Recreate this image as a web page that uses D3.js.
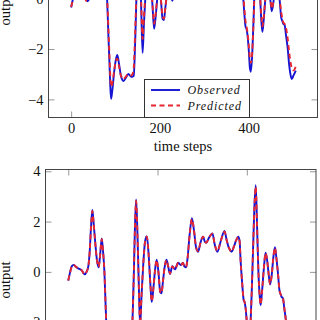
<!DOCTYPE html>
<html>
<head>
<meta charset="utf-8">
<script src="https://cdn.jsdelivr.net/npm/d3@7"></script>
<style>
body { margin: 0; background: #fff; }
svg { display: block; }
text { font-family: "Liberation Serif", "DejaVu Serif", serif; fill: #111; }
</style>
</head>
<body>
<svg width="320" height="320"></svg>
<script>
// time steps shared by every series
var steps = [
    0, 4, 8, 12, 17, 22, 27, 30, 34, 37,
    41, 45, 48, 51, 54, 57, 60, 64, 68, 71,
    75, 78, 81, 84, 86, 88, 90, 93, 97, 101,
    104, 108, 112, 118, 123, 129, 135, 138, 141, 143,
    145, 147, 149, 152, 155, 158, 161, 164, 168, 172,
    176, 180, 184, 187, 191, 194, 198, 202, 206, 209,
    212, 216, 220, 224, 228, 233, 239, 246, 252, 257,
    260, 264, 267, 272, 277, 282, 286, 291, 296, 302,
    306, 309, 315, 323, 328, 334, 342, 350, 355, 360,
    366, 371, 376, 381, 384, 386, 389, 393, 395, 397,
    400, 403, 405, 408, 411, 414, 417, 420, 423, 426,
    429, 431, 434, 438, 442, 446, 449, 452, 456, 459,
    463, 466, 470, 473, 476, 478, 481, 484, 488, 491,
    494, 497, 501, 506
];

var observed = [
    -0.35, -0.02, 0.23, 0.28, 0.2, 0.14, 0.1, 0.07, -0.05, -0.1,
    0.0, 0.23, 0.8, 1.8, 2.46, 1.9, 1.26, 0.5, 0.18, 0.6,
    1.33, 0.8, 0.0, -1.5, -2.4, -3.4, -3.98, -3.6, -2.9, -2.4,
    -2.24, -2.6, -3.05, -3.27, -3.15, -2.99, -3.1, -3.1, -3.07, -2.4,
    -1.3, 0.0, 1.5, 2.88, 1.5, -0.5, -2.15, -1.0, 0.3, 1.2,
    1.42, 0.7, -0.5, -1.2, -0.6, 0.0, 0.48, 0.0, -0.8, -0.85,
    -0.4, 0.2, 0.48, 0.2, -0.08, 0.23, 0.1, 0.36, 0.27, 0.36,
    0.22, 0.18, 0.5, 1.5, 2.13, 1.6, 1.0, 0.8, 1.15, 1.4,
    1.2, 1.16, 1.35, 1.53, 1.1, 0.8, 1.25, 1.63, 1.25, 0.95,
    0.8, 1.0, 1.25, 1.4, 1.2, 0.47, -0.3, -1.12, -1.2, -1.4,
    -2.0, -2.8, -2.9, -2.2, -0.8, 0.9, 2.6, 3.45, 1.8, 0.0,
    -1.0, -1.32, -0.8, 0.1, 0.76, 0.4, -0.1, -0.5, -0.1, 0.5,
    0.98, 0.6, -0.1, -0.72, -0.9, -1.0, -1.05, -1.45, -2.0, -2.6,
    -3.0, -3.19, -3.05, -2.86
];

// prediction of the first model (upper panel)
var predictedTop = [
    -0.33, -0.05, 0.2, 0.27, 0.2, 0.15, 0.1, 0.05, -0.08, -0.1,
    -0.02, 0.2, 0.75, 1.7, 2.3, 1.9, 1.3, 0.6, 0.25, 0.6,
    1.2, 0.8, 0.1, -1.2, -2.1, -3.0, -3.5, -3.35, -2.85, -2.45,
    -2.38, -2.7, -3.05, -3.2, -3.1, -3.0, -3.05, -3.0, -2.75, -1.9,
    -0.9, 0.2, 1.4, 2.6, 1.5, -0.2, -1.6, -0.7, 0.3, 1.1,
    1.35, 0.7, -0.4, -1.0, -0.5, 0.0, 0.45, 0.0, -0.7, -0.8,
    -0.4, 0.2, 0.45, 0.2, -0.1, 0.2, 0.1, 0.32, 0.27, 0.33,
    0.22, 0.2, 0.5, 1.4, 2.0, 1.6, 1.05, 0.85, 1.1, 1.35,
    1.2, 1.15, 1.3, 1.45, 1.1, 0.85, 1.2, 1.55, 1.25, 0.95,
    0.85, 1.0, 1.2, 1.35, 1.15, 0.6, -0.1, -0.9, -1.1, -1.3,
    -1.8, -2.4, -2.55, -2.1, -0.9, 0.8, 2.4, 3.2, 1.8, 0.1,
    -0.8, -1.1, -0.7, 0.1, 0.7, 0.4, 0.0, -0.4, -0.05, 0.5,
    0.9, 0.6, 0.0, -0.5, -0.8, -0.95, -1.0, -1.15, -1.6, -2.1,
    -2.5, -2.75, -2.85, -2.7
];

// prediction of the second model (lower panel)
var predictedBottom = [
    -0.34, -0.03, 0.22, 0.28, 0.2, 0.14, 0.1, 0.06, -0.05, -0.1,
    0.0, 0.22, 0.8, 1.78, 2.42, 1.9, 1.25, 0.5, 0.2, 0.6,
    1.3, 0.8, 0.02, -1.5, -2.4, -3.38, -3.95, -3.6, -2.9, -2.4,
    -2.25, -2.6, -3.03, -3.25, -3.15, -3.0, -3.1, -3.1, -3.05, -2.4,
    -1.3, 0.0, 1.5, 2.82, 1.5, -0.5, -2.1, -1.0, 0.3, 1.2,
    1.4, 0.7, -0.5, -1.18, -0.6, 0.0, 0.47, 0.0, -0.8, -0.84,
    -0.4, 0.2, 0.47, 0.2, -0.07, 0.22, 0.1, 0.35, 0.27, 0.35,
    0.22, 0.19, 0.5, 1.48, 2.1, 1.6, 1.0, 0.82, 1.15, 1.4,
    1.2, 1.16, 1.35, 1.52, 1.1, 0.82, 1.25, 1.6, 1.25, 0.95,
    0.8, 1.0, 1.25, 1.38, 1.2, 0.48, -0.3, -1.1, -1.2, -1.38,
    -2.0, -2.78, -2.88, -2.2, -0.8, 0.9, 2.55, 3.38, 1.8, 0.0,
    -1.0, -1.3, -0.8, 0.1, 0.75, 0.4, -0.1, -0.48, -0.1, 0.5,
    0.96, 0.6, -0.1, -0.7, -0.9, -1.0, -1.05, -1.43, -2.0, -2.58,
    -2.98, -3.17, -3.05, -2.86
];

var xTicks = [0, 200, 400];
var yTicks = [-4, -2, 0, 2, 4];
var legendLabels = ["Observed", "Predicted"];

var svg = d3.select("svg");
var BLUE = "#1414d2", RED = "#e8262f";

function drawPanel(id, box, pred, opts) {
    var x = d3.scaleLinear().domain([-51, 555]).range([box.left, box.right]);
    var y = d3.scaleLinear().domain([-4.72, 4.07]).range([box.bottom, box.top]);

    var g = svg.append("g");

    g.append("clipPath").attr("id", "clip" + id)
        .append("rect")
        .attr("x", box.left).attr("y", box.top)
        .attr("width", box.right - box.left).attr("height", box.bottom - box.top);

    var line = d3.line()
        .x(function (d, i) { return x(steps[i]); })
        .y(function (d) { return y(d); })
        .curve(d3.curveMonotoneX);

    var plot = g.append("g").attr("clip-path", "url(#clip" + id + ")");
    plot.append("path").datum(observed)
        .attr("d", line).attr("fill", "none")
        .attr("stroke", BLUE).attr("stroke-width", 1.9);
    plot.append("path").datum(pred)
        .attr("d", line).attr("fill", "none")
        .attr("stroke", RED).attr("stroke-width", 1.9)
        .attr("stroke-dasharray", "5,3.5");

    // ticks point inward, on all four sides
    var axes = [
        [d3.axisBottom(x).tickValues(xTicks), "translate(0," + box.bottom + ")", true],
        [d3.axisTop(x).tickValues(xTicks), "translate(0," + box.top + ")", false],
        [d3.axisLeft(y).tickValues(yTicks), "translate(" + box.left + ",0)", true],
        [d3.axisRight(y).tickValues(yTicks), "translate(" + box.right + ",0)", false]
    ];
    axes.forEach(function (a) {
        a[0].tickSizeInner(-6).tickSizeOuter(0).tickPadding(5);
        if (!a[2]) a[0].tickFormat("");
        var ax = g.append("g").attr("transform", a[1]).call(a[0]);
        ax.select(".domain").remove();
        ax.selectAll("line").attr("stroke", "#999");
        ax.selectAll("text")
            .attr("font-family", '"Liberation Serif", serif')
            .attr("font-size", 14.5).attr("fill", "#111");
    });

    g.append("rect")
        .attr("x", box.left).attr("y", box.top)
        .attr("width", box.right - box.left).attr("height", box.bottom - box.top)
        .attr("fill", "none").attr("stroke", "#444").attr("stroke-width", 1);

    g.append("text")
        .attr("transform", "translate(10," + (box.top + box.bottom) / 2 + ") rotate(-90)")
        .attr("text-anchor", "middle")
        .attr("font-size", 14.5)
        .text("output");

    if (opts.xLabel) {
        g.append("text")
            .attr("x", (box.left + box.right) / 2).attr("y", box.bottom + 33)
            .attr("text-anchor", "middle")
            .attr("font-size", 14.5)
            .text("time steps");
    }

    if (opts.legend) {
        var lg = g.append("g");
        lg.append("rect")
            .attr("x", 144.5).attr("y", 79.5).attr("width", 105).attr("height", 38)
            .attr("fill", "#fff").attr("stroke", "#333").attr("stroke-width", 1);
        legendLabels.forEach(function (name, i) {
            var ly = 90 + i * 15.5;
            lg.append("line")
                .attr("x1", 151).attr("x2", 180).attr("y1", ly).attr("y2", ly)
                .attr("stroke", i == 0 ? BLUE : RED).attr("stroke-width", 1.9)
                .attr("stroke-dasharray", i == 0 ? null : "5,3.5");
            lg.append("text")
                .attr("x", 187.5).attr("y", ly)
                .attr("dominant-baseline", "central")
                .attr("font-size", 12).attr("font-style", "italic")
                .attr("letter-spacing", 0.9)
                .text(name);
        });
    }
}

drawPanel("top", { left: 48.5, right: 317.5, top: -103.8, bottom: 117.5 }, predictedTop, { xLabel: true, legend: true });
drawPanel("bottom", { left: 45.5, right: 316, top: 169.5, bottom: 390.6 }, predictedBottom, { xLabel: true, legend: false });
</script>
</body>
</html>
